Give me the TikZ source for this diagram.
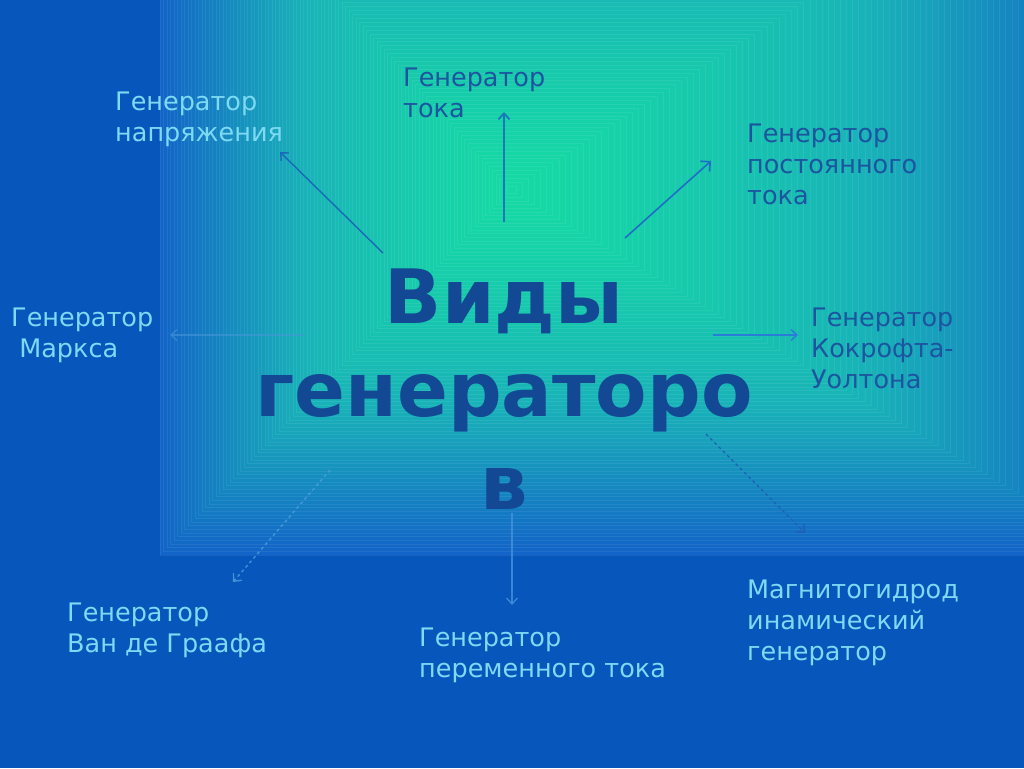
\documentclass[tikz,border=0pt]{standalone}
\usepackage{fontspec}
\setmainfont{DejaVu Sans}
\usetikzlibrary{arrows.meta}
\definecolor{outerblue}{RGB}{6,86,188}
\definecolor{lightlab}{RGB}{125,218,243}
\definecolor{darklab}{RGB}{28,84,160}
\definecolor{titlec}{RGB}{18,72,148}
\definecolor{arA}{RGB}{25,105,185}
\definecolor{arB}{RGB}{25,120,185}
\definecolor{arC}{RGB}{30,110,200}
\definecolor{arD}{RGB}{70,150,215}
\definecolor{arE}{RGB}{40,125,215}
\definecolor{arF}{RGB}{80,160,225}
\definecolor{arG}{RGB}{70,145,220}
\definecolor{arH}{RGB}{30,95,180}
\tikzset{
  lab/.style={anchor=base west, inner sep=0pt, align=left, font=\fontsize{25.5}{31}\selectfont},
  lightlab/.style={lab, text=lightlab},
  darklab/.style={lab, text=darklab},
  arr/.style={-{Straight Barb[length=6pt,width=11pt]}, line width=1.4pt},
}
\begin{document}
\begin{tikzpicture}[x=1pt,y=-1pt]
\useasboundingbox (0,0) rectangle (1024,768);
\begin{scope}
\clip (0,0) rectangle (1024,768);
\fill[outerblue] (0,0) rectangle (1024,768);
\foreach \i in {100,99,...,0}{
  \pgfmathsetmacro\tt{\i/100}
  \pgfmathsetmacro\uu{\tt^1.35}
  \pgfmathsetmacro\Lx{510-\tt*350}
  \pgfmathsetmacro\Rx{510+\tt*612}
  \pgfmathsetmacro\Ty{190-\tt*390}
  \pgfmathsetmacro\By{190+\tt*365}
  \pgfmathtruncatemacro\colR{ifthenelse(\uu<0.5, 22+(25-22)*\uu*2, 25+(18-25)*(\uu-0.5)*2)}
  \pgfmathtruncatemacro\colG{ifthenelse(\uu<0.5, 218+(178-218)*\uu*2, 178+(100-178)*(\uu-0.5)*2)}
  \pgfmathtruncatemacro\colB{ifthenelse(\uu<0.5, 165+(185-165)*\uu*2, 185+(200-185)*(\uu-0.5)*2)}
  \definecolor{ringc}{RGB}{\colR,\colG,\colB}
  \fill[ringc] (\Lx,\Ty) rectangle (\Rx,\By);
  \draw[white, opacity=0.07, line width=0.7pt] (\Lx,\Ty) rectangle (\Rx,\By);
}
\end{scope}

% title
\node[align=center, inner sep=0pt, text=titlec, font=\fontsize{75}{93}\selectfont\bfseries, anchor=base] (title) at (504,509) {Виды\\генераторо\\в};

% labels (anchored at the baseline of their last line)
\node[lightlab] (napr) at (115,141) {Генератор\\напряжения};
\node[darklab] (toka) at (403,117) {Генератор\\тока};
\node[darklab] (post) at (747,204) {Генератор\\постоянного\\тока};
\node[lightlab] (marks) at (11,357) {Генератор\\\ Маркса};
\node[darklab] (kokr) at (811,388) {Генератор\\Кокрофта-\\Уолтона};
\node[lightlab] (van) at (67,652) {Генератор\\Ван де Граафа};
\node[lightlab] (perem) at (419,677) {Генератор\\переменного тока};
\node[lightlab] (mgd) at (747,660) {Магнитогидрод\\инамический\\генератор};

% arrow ends
\coordinate (s1) at (383,253); \coordinate (e1) at (280,152);
\coordinate (s2) at (504,222); \coordinate (e2) at (504,112);
\coordinate (s3) at (625,238); \coordinate (e3) at (711,161);
\coordinate (s4) at (305,335); \coordinate (e4) at (170,335);
\coordinate (s5) at (713,335); \coordinate (e5) at (798,335);
\coordinate (s6) at (330,470); \coordinate (e6) at (233,582);
\coordinate (s7) at (512,513); \coordinate (e7) at (512,605);
\coordinate (s8) at (706,434); \coordinate (e8) at (805,533);

\draw[arr, arA] (s1) -- (e1);
\draw[arr, arB, line width=1.8pt] (s2) -- (e2);
\draw[arr, arC, -{Straight Barb[length=7pt,width=14pt]}, line width=1.6pt] (s3) -- (e3);
\draw[arr, arD, opacity=0.6] (s4) -- (e4);
\draw[arr, arE] (s5) -- (e5);
\draw[arr, arF, dashed, opacity=0.8] (s6) -- (e6);
\draw[arr, arG, opacity=0.8] (s7) -- (e7);
\draw[arr, arH, dashed] (s8) -- (e8);
\end{tikzpicture}
\end{document}
